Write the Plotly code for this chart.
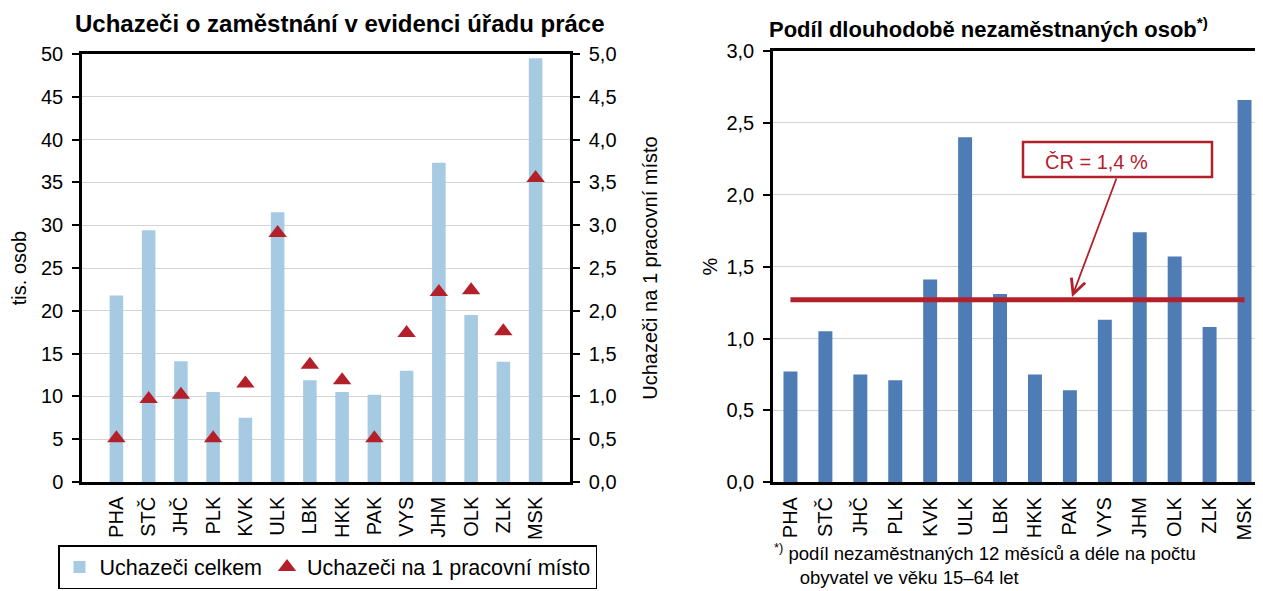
import plotly.graph_objects as go

# reference canvas is 1263x591; the page body adds an 8px margin, so the figure is shifted
OFF = 8
FW, FH = 1255, 583

regions = ["PHA", "STČ", "JHČ", "PLK", "KVK", "ULK", "LBK", "HKK", "PAK", "VYS", "JHM", "OLK", "ZLK", "MSK"]
uchazeci_celkem = [21.8, 29.4, 14.1, 10.5, 7.5, 31.5, 11.9, 10.5, 10.2, 13.0, 37.3, 19.5, 14.05, 49.5]
uchazeci_na_misto = [0.51, 0.97, 1.02, 0.51, 1.15, 2.91, 1.37, 1.19, 0.51, 1.74, 2.22, 2.24, 1.76, 3.55]
podil_dlouhodobe = [0.77, 1.05, 0.75, 0.71, 1.41, 2.40, 1.31, 0.75, 0.64, 1.13, 1.74, 1.57, 1.08, 2.66]
cr_level = 1.27
cr_label = "ČR = 1,4 %"

FONT = "Arial, Liberation Sans, sans-serif"
LIGHT_BLUE = "#a7cae3"
BLUE = "#4e7cb5"
RED = "#b3202a"
GRID = "#d4d4d4"
FS = 20


def px_x(x):
    return (x - OFF) / FW


def px_y(y):
    return 1 - (y - OFF) / FH


fig = go.Figure()

fig.add_trace(go.Bar(x=regions, y=uchazeci_celkem, name="Uchazeči celkem",
                     marker=dict(color=LIGHT_BLUE), xaxis="x", yaxis="y"))
fig.add_trace(go.Scatter(x=regions, y=uchazeci_na_misto, name="Uchazeči na 1 pracovní místo",
                         mode="markers", marker=dict(symbol="triangle-up", size=16, color=RED),
                         xaxis="x", yaxis="y2"))
fig.add_trace(go.Bar(x=regions, y=podil_dlouhodobe, showlegend=False,
                     marker=dict(color=BLUE), xaxis="x2", yaxis="y3", width=0.4))
fig.add_trace(go.Scatter(x=regions, y=[cr_level] * len(regions), mode="lines", showlegend=False,
                         line=dict(color=RED, width=5), xaxis="x2", yaxis="y3"))

axis_common = dict(showline=True, linecolor="black", linewidth=2.5,
                   tickfont=dict(size=FS, color="black", family=FONT), automargin=False)

fig.update_layout(
    width=FW, height=FH,
    template="none",
    separators=", ",
    font=dict(family=FONT, size=FS, color="black"),
    paper_bgcolor="white", plot_bgcolor="white",
    margin=dict(l=0, r=0, t=0, b=0),
    bargap=0.58,
    showlegend=True,
    legend=dict(orientation="h", x=px_x(58), xanchor="left", y=px_y(545), yanchor="top",
                bordercolor="black", borderwidth=1.5, bgcolor="white",
                font=dict(size=21.5, family=FONT), itemwidth=30),
    xaxis=dict(domain=[px_x(82), px_x(570)], type="category", mirror=True, ticks="",
               tickangle=-90, anchor="y", ticklabelstandoff=4, **axis_common),
    yaxis=dict(domain=[px_y(482), px_y(54)], range=[0, 50], dtick=5, ticks="outside",
               ticklen=7, tickwidth=1.5, tickcolor="black", showgrid=True, gridcolor=GRID,
               gridwidth=1.2, zeroline=False, anchor="x", ticklabelstandoff=5,
               title=dict(text="tis. osob", font=dict(size=FS), standoff=14), **axis_common),
    yaxis2=dict(overlaying="y", side="right", range=[0, 5], dtick=0.5, tickformat=".1f",
                ticks="outside", ticklen=7, tickwidth=1.5, tickcolor="black", showgrid=False,
                zeroline=False, anchor="x", ticklabelstandoff=5,
                title=dict(text="Uchazeči na 1 pracovní místo", font=dict(size=FS), standoff=28),
                **axis_common),
    xaxis2=dict(domain=[px_x(773), px_x(1262)], type="category", mirror=True, ticks="",
                tickangle=-90, anchor="y3", ticklabelstandoff=4, **axis_common),
    yaxis3=dict(domain=[px_y(482.3), px_y(51)], range=[0, 3], dtick=0.5, tickformat=".1f",
                ticks="outside", ticklen=7, tickwidth=1.5, tickcolor="black", showgrid=True,
                gridcolor=GRID, gridwidth=1.2, zeroline=False, anchor="x2", ticklabelstandoff=5,
                title=dict(text="%", font=dict(size=FS), standoff=4), **axis_common),
)

fig.add_annotation(text="<b>Uchazeči o zaměstnání v evidenci úřadu práce</b>", xref="paper", yref="paper",
                   x=px_x(340), y=px_y(23), xanchor="center", yanchor="middle", showarrow=False,
                   font=dict(size=24, family=FONT, color="black"))
fig.add_annotation(text="<b>Podíl dlouhodobě nezaměstnaných osob<sup>*)</sup></b>", xref="paper", yref="paper",
                   x=px_x(767), y=px_y(28), xanchor="left", yanchor="middle", showarrow=False,
                   font=dict(size=22, family=FONT, color="black"))

# ČR callout box and arrow
fig.add_shape(type="rect", xref="paper", yref="paper",
              x0=px_x(1023), x1=px_x(1212), y0=px_y(177), y1=px_y(142),
              line=dict(color=RED, width=2.5), fillcolor="white")
fig.add_annotation(text=cr_label, xref="paper", yref="paper", x=px_x(1043), y=px_y(162),
                   xanchor="left", yanchor="middle", showarrow=False,
                   font=dict(size=FS, family=FONT, color=RED))
fig.add_annotation(text="", xref="paper", yref="paper", x=px_x(1072), y=px_y(297),
                   ax=1117 - 1072, ay=177 - 297, axref="pixel", ayref="pixel",
                   showarrow=True, arrowhead=5, arrowsize=1.6, arrowwidth=1.8, arrowcolor=RED)

# footnote (two lines in one text block)
fig.add_annotation(text="<sup>*)</sup> podíl nezaměstnaných 12 měsíců a déle na počtu<br>"
                        "\u00a0\u00a0\u00a0\u00a0\u00a0obyvatel ve věku 15–64 let",
                   xref="paper", yref="paper", align="left", borderpad=0,
                   x=px_x(773), y=px_y(539), xanchor="left", yanchor="top", showarrow=False,
                   font=dict(size=18.5, family=FONT, color="black"))

fig.write_html("out.html")
